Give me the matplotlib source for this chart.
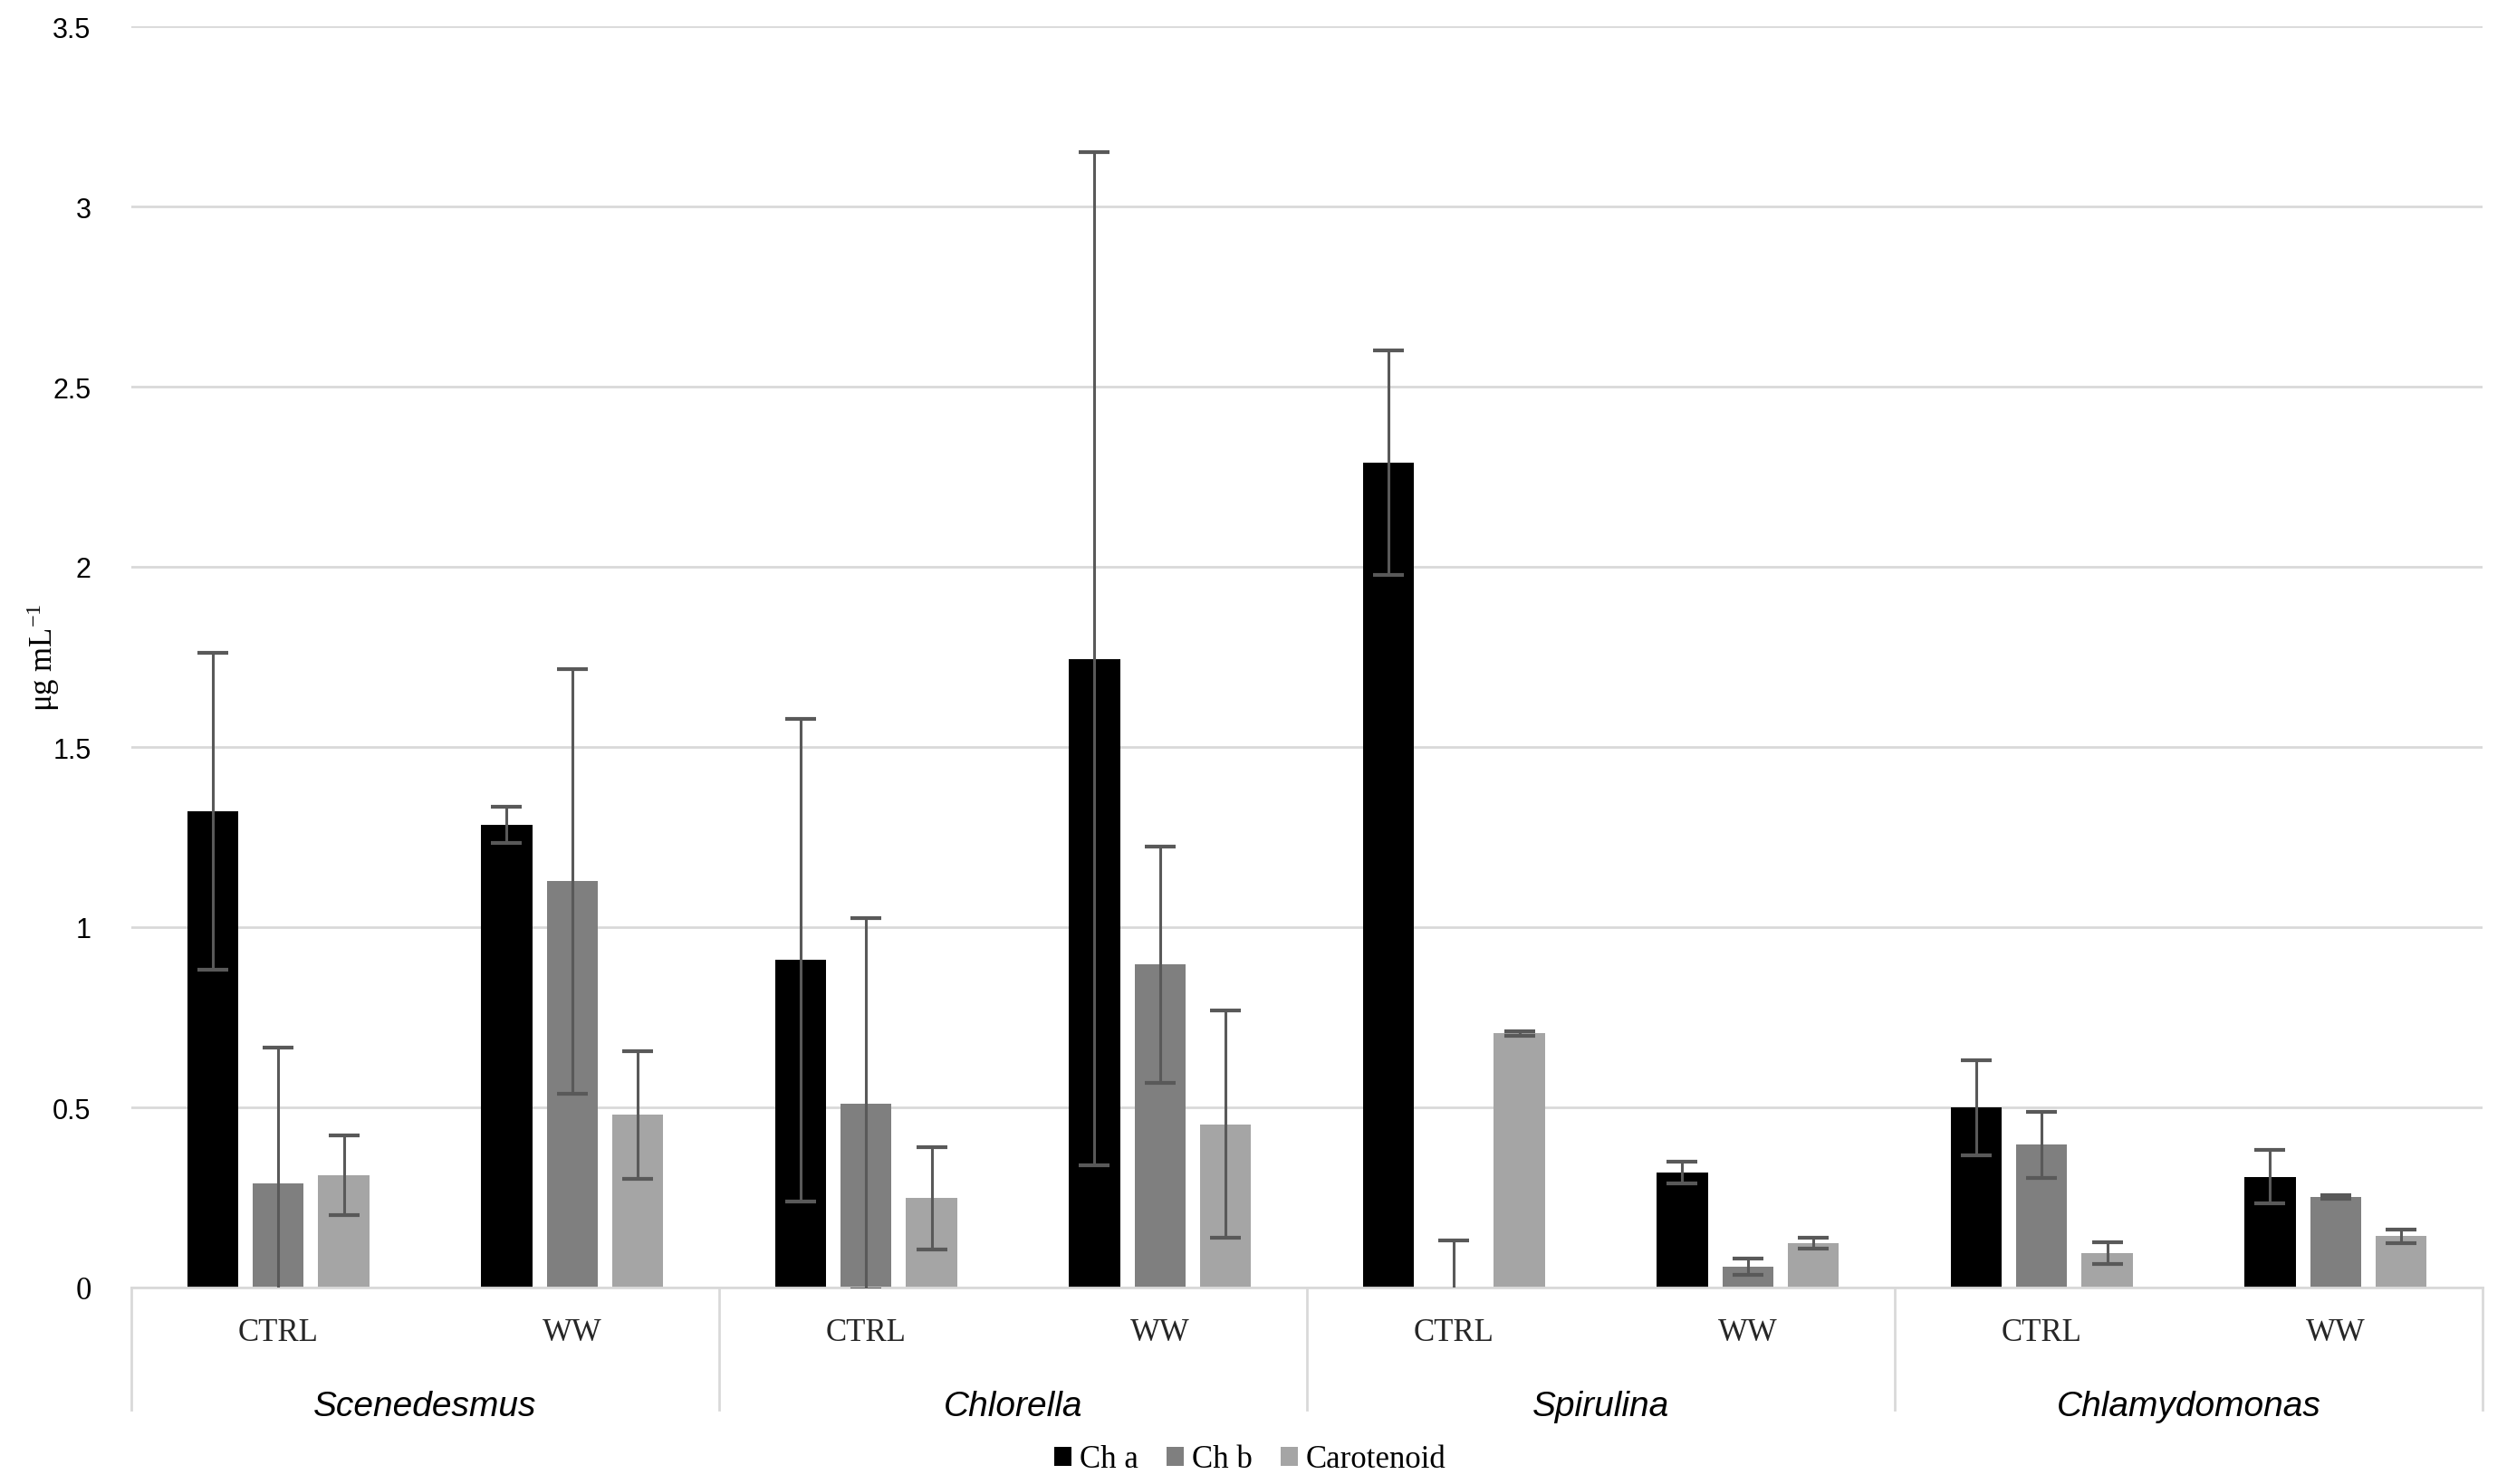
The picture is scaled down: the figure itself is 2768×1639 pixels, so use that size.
import matplotlib
matplotlib.use("Agg")
import matplotlib.pyplot as plt
from matplotlib.patches import Patch
import matplotlib.transforms as mtransforms
import numpy as np

species = ["Scenedesmus", "Chlorella", "Spirulina", "Chlamydomonas"]
treatments = ["CTRL", "WW"]
series_names = ["Ch a", "Ch b", "Carotenoid"]
series_colors = ["#000000", "#7f7f7f", "#a5a5a5"]

# order: Scen CTRL, Scen WW, Chlo CTRL, Chlo WW, Spir CTRL, Spir WW, Chlam CTRL, Chlam WW
ch_a = [1.322, 1.284, 0.909, 1.744, 2.289, 0.319, 0.499, 0.307]
ch_a_err = [0.44, 0.05, 0.67, 1.406, 0.312, 0.03, 0.132, 0.074]
ch_b = [0.288, 1.127, 0.51, 0.896, 0.0, 0.058, 0.396, 0.251]
ch_b_err = [0.377, 0.59, 0.515, 0.328, 0.13, 0.022, 0.092, 0.005]
carot = [0.312, 0.479, 0.248, 0.453, 0.705, 0.124, 0.096, 0.142]
carot_err = [0.11, 0.178, 0.142, 0.315, 0.006, 0.015, 0.03, 0.02]

ytick_vals = [0, 0.5, 1, 1.5, 2, 2.5, 3, 3.5]
ytick_labels = ["0", "0.5", "1", "1.5", "2", "2.5", "3", "3.5"]

plt.rcParams['mathtext.default'] = 'regular'
SANS = ['Liberation Sans', 'DejaVu Sans']
SERIF = ['Liberation Serif', 'DejaVu Serif']

fig = plt.figure(figsize=(13.84, 8.2), dpi=200)
ax = fig.add_axes([145/2768, 1 - 1423/1640, (2741-145)/2768, (1423-30)/1640])

values = [ch_a, ch_b, carot]
errs = [ch_a_err, ch_b_err, carot_err]
x = np.arange(len(ch_a))
step = 0.223
width = 0.174
for i, (vals, e, col, name) in enumerate(zip(values, errs, series_colors, series_names)):
    pos = x + (i - 1) * step
    ax.bar(pos, vals, width=width, color=col, label=name, zorder=2)
    ax.errorbar(pos, vals, yerr=e, fmt='none', ecolor='#595959', elinewidth=1.1,
                capsize=6, capthick=1.5, zorder=3)

ax.set_xlim(-0.5, len(ch_a) - 0.5)
ax.set_ylim(0, 3.5)
ax.set_yticks(ytick_vals)
ax.set_yticklabels(ytick_labels, fontfamily=SANS, fontsize=11)
ax.get_yticklabels()[0].set_fontfamily(SERIF)
ax.get_yticklabels()[0].set_fontsize(12.5)
ax.tick_params(axis='y', length=0, pad=16)
ax.set_xticks([])
ax.grid(axis='y', color='#d9d9d9', linewidth=1.0, zorder=0)
ax.set_axisbelow(True)
for s in ['top', 'right', 'left']:
    ax.spines[s].set_visible(False)
ax.spines['bottom'].set_color('#d9d9d9')
ax.spines['bottom'].set_linewidth(1.0)

ax.set_ylabel("μg mL$^{-1}$", fontfamily=SERIF, fontsize=12.5)
ax.yaxis.set_label_coords(-0.0295, 0.50)

# multi-level category axis
trans = mtransforms.blended_transform_factory(ax.transData, ax.transAxes)
ax_h = 1393.0
y_sep = -(1558-1423)/ax_h
y_sub = -(1473-1423)/ax_h
y_grp = -(1554-1423)/ax_h
n_groups = len(species)
for g in range(n_groups + 1):
    xb = 2*g - 0.5
    ax.plot([xb, xb], [0, y_sep], transform=trans, color='#d9d9d9', linewidth=1.0,
            clip_on=False)
for k in range(len(ch_a)):
    ax.text(k, y_sub, treatments[k % 2], transform=trans, ha='center', va='center',
            fontfamily=SERIF, fontsize=12.5, color='#262626')
for g, sp in enumerate(species):
    ax.text(2*g + 0.5, y_grp, sp, transform=trans, ha='center', va='center',
            fontfamily=SANS, fontsize=14, style='italic', color='#000000')

handles = [Patch(facecolor=c, edgecolor='none', label=n) for c, n in zip(series_colors, series_names)]
fig.legend(handles=handles, loc='center', bbox_to_anchor=(0.4986, 1 - 1613/1640), ncol=3,
           frameon=False, prop={'family': SERIF, 'size': 12.5},
           handlelength=0.55, handleheight=0.55, handletextpad=0.25, columnspacing=0.9)

fig.savefig("out.png", dpi=200)
